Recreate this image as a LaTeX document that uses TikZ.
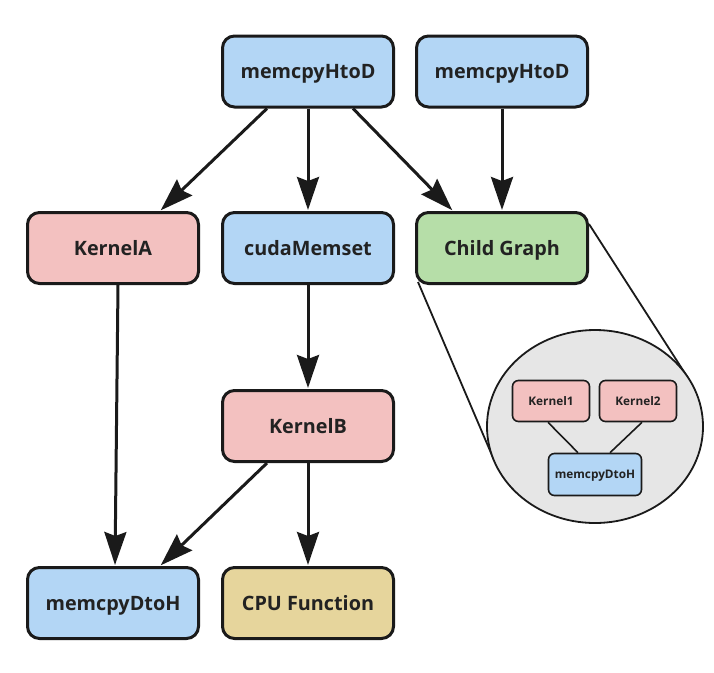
\documentclass[tikz,border=0pt]{standalone}
\usepackage{fontspec}
\setmainfont{Open Sans}
\usetikzlibrary{arrows.meta,backgrounds,shapes.geometric}
\definecolor{nblue}{HTML}{B3D6F5}
\definecolor{npink}{HTML}{F3C1C0}
\definecolor{ngreen}{HTML}{B6DEA8}
\definecolor{nyellow}{HTML}{E6D59C}
\definecolor{ngray}{HTML}{E6E6E6}
\definecolor{lc}{HTML}{1A1A1A}
\definecolor{tc}{HTML}{222222}
\begin{document}
\begin{tikzpicture}[x=1pt,y=-1pt,
  big/.style={draw=lc, line width=3pt, rounded corners=12pt, minimum width=171pt, minimum height=71pt, inner sep=0pt, text=tc, text height=14.1pt, text depth=0pt, font=\fontsize{19.8}{23}\selectfont\bfseries},
  small/.style={draw=lc, line width=1.6pt, rounded corners=6pt, minimum width=77pt, minimum height=41pt, inner sep=0pt, text=tc, text height=8.4pt, text depth=0pt, font=\fontsize{11.8}{13}\selectfont\bfseries},
  arr/.style={draw=lc, line width=3pt, shorten >=1pt, -{Stealth[length=33pt,width=22pt,inset=4pt]}},
  thin/.style={draw=lc, line width=1.6pt},
  zoomline/.style={draw=lc, line width=1.8pt}]
\useasboundingbox (0,0) rectangle (714,672);
% main nodes
\node[big, fill=nblue] (h1) at (308,71.5) {memcpyHtoD};
\node[big, fill=nblue] (h2) at (502,71.5) {memcpyHtoD};
\node[big, fill=npink] (ka) at (113,248) {KernelA};
\node[big, fill=nblue] (cm) at (308,248) {cudaMemset};
\node[big, fill=ngreen] (cg) at (502,248) {Child Graph};
\node[big, fill=npink] (kb) at (308,426) {KernelB};
\node[big, fill=nblue] (dh) at (113,603) {memcpyDtoH};
\node[big, fill=nyellow] (cpu) at (308,603) {CPU Function};
% zoom ellipse
\node[ellipse, draw=lc, line width=1.8pt, fill=ngray, minimum width=216pt, minimum height=193pt, inner sep=0pt] (zoom) at (595,426.5) {};
\coordinate (tl) at (494,460);
\coordinate (tr) at (688,378);
\begin{pgfonlayer}{background}
\draw[zoomline] ([xshift=3pt,yshift=3pt]cg.south west) -- (tl);
\draw[zoomline] ([yshift=-13pt]cg.north east) -- (tr);
\end{pgfonlayer}
% inner nodes
\node[small, fill=npink] (k1) at (551,401) {Kernel1};
\node[small, fill=npink] (k2) at (638,401) {Kernel2};
\node[small, fill=nblue, minimum width=93pt, minimum height=42pt] (d2) at (595,474.5) {memcpyDtoH};
\draw[thin] ([xshift=-3pt]k1.south) -- ([xshift=-17pt]d2.north);
\draw[thin] ([xshift=4pt]k2.south) -- ([xshift=15pt]d2.north);
% arrows
\draw[arr] ([xshift=-41pt]h1.south) -- ([xshift=47pt]ka.north);
\draw[arr] (h1.south) -- (cm.north);
\draw[arr] ([xshift=45pt]h1.south) -- ([xshift=-49pt]cg.north);
\draw[arr] (h2.south) -- (cg.north);
\draw[arr] ([xshift=5pt]ka.south) -- ([xshift=2pt]dh.north);
\draw[arr] (cm.south) -- (kb.north);
\draw[arr] ([xshift=-41pt]kb.south) -- ([xshift=47pt]dh.north);
\draw[arr] (kb.south) -- (cpu.north);
\end{tikzpicture}
\end{document}
